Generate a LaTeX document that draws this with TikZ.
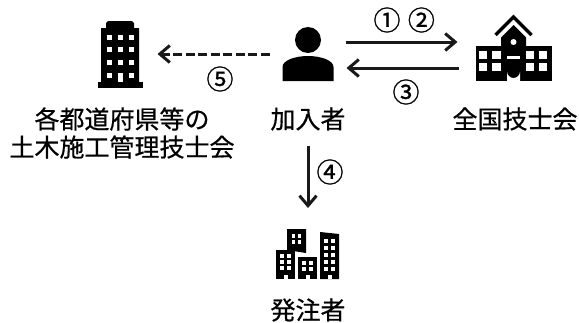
\documentclass[tikz,border=0pt]{standalone}
\usepackage{fontspec}
\setmainfont[FakeBold=0.6]{Noto Sans CJK JP}
\newfontfamily\markfont[FakeBold=1]{Noto Sans CJK JP}
\usetikzlibrary{arrows.meta,positioning}
\tikzset{
  icon/.style={inner sep=0pt, outer sep=0pt},
  name label/.style={inner sep=0pt, align=center, font=\fontsize{25}{28}\selectfont},
  step mark/.style={inner sep=0pt, font=\markfont\fontsize{27}{27}\selectfont},
  link/.style={-{Straight Barb[length=10pt,width=17pt,line width=3pt]}, line width=3pt, black!90},
  window/.style={fill=white},
  tower icon/.pic={
    \fill (-22.5,34) rectangle (22.5,28);
    \fill (-19,28) -- (-19,-26) -- (-14,-26) -- (-14,-31) -- (-12,-33) -- (12,-33) -- (14,-31) -- (14,-26) -- (19,-26) -- (19,28) -- cycle;
    \foreach \x in {-11,0,11} \foreach \y in {-17,-5,8}
      \fill[window] (\x-2.5,\y-2.5) rectangle (\x+2.5,\y+2.5);
    \foreach \x in {-11,11} \fill[window] (\x-2.5,18.5) rectangle (\x+2.5,23.5);
    \fill[window] (-2.5,19) rectangle (2.5,28);
  },
  person icon/.pic={
    \fill (0,-14) circle (13);
    \fill (-25.5,27) -- (-25.5,13) .. controls (-25.5,6) and (-12,2) .. (0,2) .. controls (12,2) and (25.5,6) .. (25.5,13) -- (25.5,27) -- cycle;
  },
  school icon/.pic={
    \fill (-38,-8) rectangle (38,27);
    \fill (-12.5,-8) -- (-12.5,-16.5) -- (0,-29) -- (12.5,-16.5) -- (12.5,-8) -- cycle;
    \draw[line width=3.5pt] (-18,-19) -- (0,-37) -- (18,-19);
    \fill[window] (0,-12) circle (3);
    \foreach \x in {-30.5,-17,16.5,29.5} \foreach \y in {1,13}
      \fill[window] (\x-4.2,\y-4) rectangle (\x+4.2,\y+4);
    \fill[window] (-6.5,2) rectangle (6.5,5);
    \fill[window] (-6.5,27) -- (-6.5,17.5) arc[start angle=180,end angle=0,radius=6.5] -- (6.5,27) -- cycle;
  },
  city icon/.pic={
    \fill (-32,25) -- (-32,-4) -- (-13,-4) -- (-13,25) -- cycle;
    \fill (-21,-25) -- (-2,-25) -- (-2,-1) -- (-21,-4) -- cycle;
    \fill (-10,25) -- (-10,3) -- (9,3) -- (9,25) -- cycle;
    \fill (12,25) -- (12,-22) -- (31,-20) -- (31,25) -- cycle;
    \foreach \x in {-26,-19} \foreach \y in {2,8,14}
      \fill[window] (\x-1.7,\y-1.7) rectangle (\x+1.7,\y+1.7);
    \foreach \x in {-14.5,-8.5} \foreach \y in {-18,-12}
      \fill[window] (\x-1.7,\y-1.7) rectangle (\x+1.7,\y+1.7);
    \foreach \x in {-4,3} \foreach \y in {9,15}
      \fill[window] (\x-1.7,\y-1.7) rectangle (\x+1.7,\y+1.7);
    \foreach \x in {18,25} \foreach \y in {-13,-6,1,8,15}
      \fill[window] (\x-1.7,\y-1.7) rectangle (\x+1.7,\y+1.7);
    \foreach \x in {-22.5,-0.5,21.5} \fill[window] (\x-2,21) rectangle (\x+2,25);
  }
}

\begin{document}
\begin{tikzpicture}[x=1pt, y=-1pt, node distance=12pt]
    \useasboundingbox (0,0) rectangle (579,322);
    % Icons
    \node[icon, minimum width=51pt, minimum height=54pt] (person) at (308,54) {};
    \node[icon, minimum width=76pt, minimum height=54pt, right=142pt of person] (school) {};
    \node[icon, minimum width=45pt, minimum height=67pt, left=140pt of person] (tower) {};
    \node[icon, minimum width=63pt, minimum height=50pt, below=148pt of person] (city) {};
    \pic at (person) {person icon};
    \pic at (school) {school icon};
    \pic at (tower) {tower icon};
    \pic at (city) {city icon};
    % Labels
    \node[name label] (kanyu) at (308,119) {加入者};
    \node[name label] (zenkoku) at (515,119) {全国技士会};
    \node[name label] (kakuto) at (122,133) {各都道府県等の\\土木施工管理技士会};
    \node[name label] (hatchu) at (308,310) {発注者};
    % Arrows
    \draw[link] ([xshift=12pt,yshift=12pt]person.east) -- ([xshift=-18pt,yshift=12pt]school.west);
    \draw[link] ([xshift=-17pt,yshift=-14pt]school.west) -- ([xshift=13pt,yshift=-14pt]person.east);
    \draw[link, dash pattern=on 9pt off 3.5pt] ([xshift=-13pt]person.west) -- ([xshift=15pt]tower.east);
    \draw[link] ([yshift=-15pt]kanyu.south) -- ([yshift=21pt]city.north);
    % Step marks
    \node[step mark] (mone) at (387,20) {①};
    \node[step mark, right=7pt of mone] (mtwo) {②};
    \node[step mark] (mthree) at (406,92) {③};
    \node[step mark] (mfour) at (330,172) {④};
    \node[step mark] (mfive) at (220,79) {⑤};
\end{tikzpicture}
\end{document}
